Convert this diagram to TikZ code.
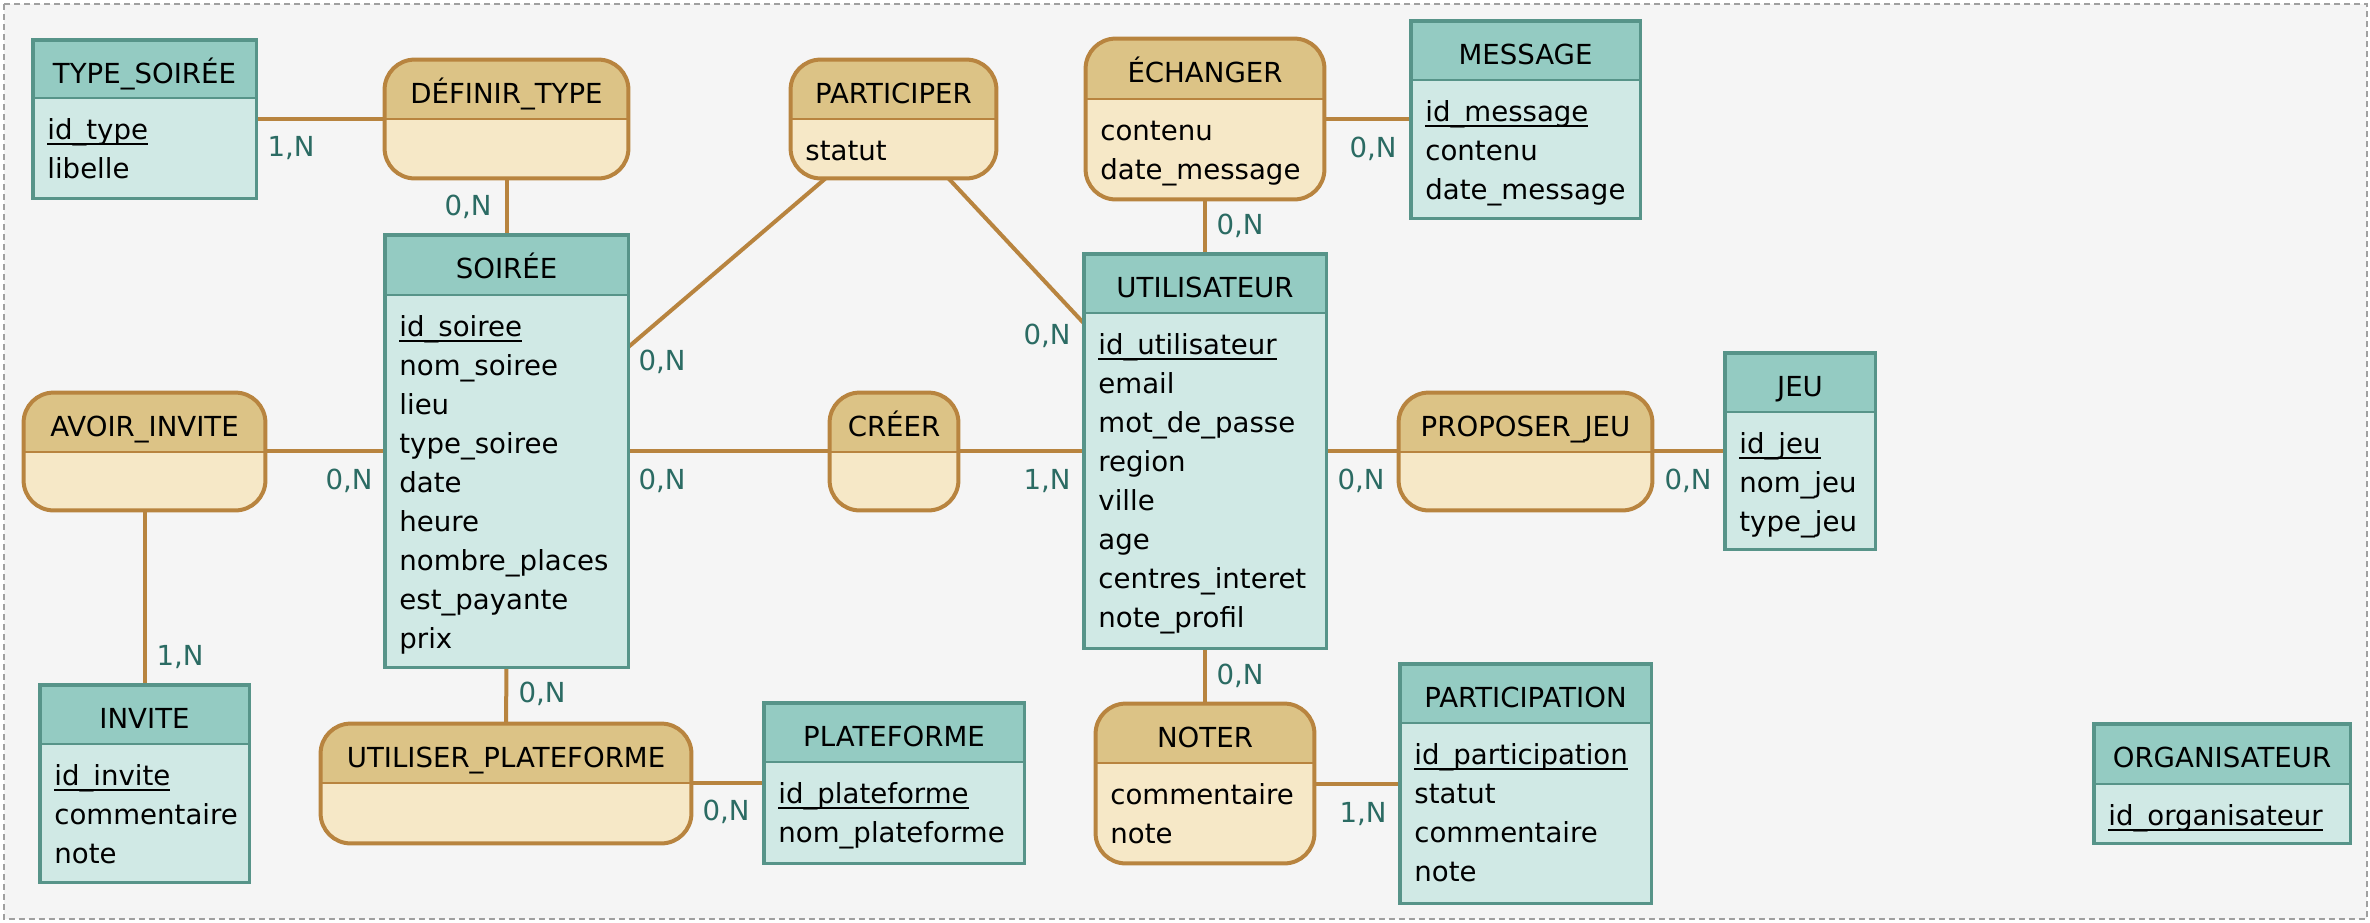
\documentclass[tikz,border=0pt]{standalone}
\usepackage{fontspec}
\setmainfont{DejaVu Sans}
\usetikzlibrary{fit,calc,backgrounds}
\definecolor{bgc}{HTML}{F5F5F5}
\definecolor{ehead}{HTML}{94CBC2}
\definecolor{ebody}{HTML}{D0E9E5}
\definecolor{eline}{HTML}{579489}
\definecolor{ahead}{HTML}{DCC386}
\definecolor{abody}{HTML}{F6E8C7}
\definecolor{aline}{HTML}{B8843F}
\definecolor{cardc}{HTML}{2B6B63}
\definecolor{framec}{HTML}{A0A0A0}
\newsavebox\pkbox
\newcommand\pkey[1]{\sbox\pkbox{#1}\rlap{\rule[-3pt]{\wd\pkbox}{0.9pt}}\usebox\pkbox}
\tikzset{
  ebox/.style={inner sep=0pt, fill=ebody, draw=none},
  eborder/.style={draw=eline, line width=1.9pt},
  abox/.style={inner sep=0pt, fill=abody, draw=none, rounded corners=15pt},
  aborder/.style={draw=aline, line width=2pt, rounded corners=15pt},
  ttl/.style={anchor=base, inner sep=0pt, text=black},
  attr/.style={anchor=base west, inner sep=0pt, text=black},
  conn/.style={draw=aline, line width=2pt},
  cardl/.style={text=cardc, inner sep=0pt, text height=0.73em, text depth=0pt},
}
% entity: name, x1, y1, x2, y2, header bottom, title, rows
\newcommand\entity[8]{%
  \node[ebox, fit={(#2,#3) (#4,#5)}] (#1) {};
  \fill[ehead] (#2,#3) rectangle (#4,#6);
  \draw[eline, line width=0.8pt] (#2,#6) -- (#4,#6);
  \draw[eborder] (#1.north west) rectangle (#1.south east);
  \node[ttl] (#1-t) at ({(#2+#4)/2},{#3+43}) {#7};
  \foreach \rw [count=\ri from 0] in {#8} {\node[attr] (#1-r\ri) at ({#2+14},{#6+41+39*\ri}) {\rw};}
}
% association: name, x1, y1, x2, y2, divider, title, rows
\newcommand\assoc[8]{%
  \node[abox, fit={(#2,#3) (#4,#5)}] (#1) {};
  \begin{scope}
    \clip[rounded corners=15pt] (#2,#3) rectangle (#4,#5);
    \fill[ahead] (#2,#3) rectangle (#4,#6);
  \end{scope}
  \draw[aline, line width=1.2pt] (#2,#6) -- (#4,#6);
  \draw[aborder] (#1.north west) rectangle (#1.south east);
  \node[ttl] (#1-t) at ({(#2+#4)/2},{#3+43}) {#7};
  \foreach \rw [count=\ri from 0] in {#8} {\node[attr] (#1-r\ri) at ({#2+14},{#6+41+39*\ri}) {\rw};}
}
\begin{document}
\begin{tikzpicture}[x=0.5pt, y=-0.5pt, font=\fontsize{13.8}{16}\selectfont]
\useasboundingbox (0,0) rectangle (2370,922);

% entities
\entity{ts}{33}{40}{256}{198}{98}{TYPE\_SOIRÉE}{\pkey{id\_type}, libelle}
\entity{soiree}{385}{235}{628}{667}{295}{SOIRÉE}{\pkey{id\_soiree}, nom\_soiree, lieu, type\_soiree, date, heure, nombre\_places, est\_payante, prix}
\entity{msg}{1411}{21}{1640}{218}{80}{MESSAGE}{\pkey{id\_message}, contenu, date\_message}
\entity{util}{1084}{254}{1326}{648}{313}{UTILISATEUR}{\pkey{id\_utilisateur}, email, mot\_de\_passe, region, ville, age, centres\_interet, note\_profil}
\entity{jeu}{1725}{353}{1875}{549}{412}{JEU}{\pkey{id\_jeu}, nom\_jeu, type\_jeu}
\entity{invite}{40}{685}{249}{882}{744}{INVITE}{\pkey{id\_invite}, commentaire, note}
\entity{plat}{764}{703}{1024}{863}{762}{PLATEFORME}{\pkey{id\_plateforme}, nom\_plateforme}
\entity{partn}{1400}{664}{1651}{903}{723}{PARTICIPATION}{\pkey{id\_participation}, statut, commentaire, note}
\entity{orga}{2094}{724}{2350}{843}{784}{ORGANISATEUR}{\pkey{id\_organisateur}}

% associations
\assoc{deft}{385}{60}{628}{178}{119}{DÉFINIR\_TYPE}{}
\assoc{part}{791}{60}{996}{178}{119}{PARTICIPER}{statut}
\assoc{ech}{1086}{39}{1324}{199}{99}{ÉCHANGER}{contenu, date\_message}
\assoc{avinv}{24}{393}{265}{510}{452}{AVOIR\_INVITE}{}
\assoc{creer}{830}{393}{958}{510}{452}{CRÉER}{}
\assoc{prop}{1399}{393}{1652}{510}{452}{PROPOSER\_JEU}{}
\assoc{utilp}{321}{724}{691}{843}{783}{UTILISER\_PLATEFORME}{}
\assoc{noter}{1096}{704}{1314}{863}{763}{NOTER}{commentaire, note}

\begin{pgfonlayer}{background}
  \fill[white] (0,0) rectangle (2370,922);
  \fill[bgc] (4,4) rectangle (2367,919);
  \draw[framec, line width=0.6pt, dash pattern=on 3pt off 2pt] (4,4) rectangle (2367,919);
  \draw[conn] (ts.east) -- (ts.east -| deft.west);
  \draw[conn] (deft.south) -- (soiree.north);
  \draw[conn] ($(part.south)+(-68,0)$) -- ($(soiree.east)+(0,-104)$);
  \draw[conn] ($(part.south)+(55,0)$) -- ($(util.west)+(0,-128)$);
  \draw[conn] (ech.south) -- (util.north);
  \draw[conn] (ech.east) -- (ech.east -| msg.west);
  \draw[conn] (soiree.west) -- (soiree.west -| avinv.east);
  \draw[conn] (soiree.east) -- (soiree.east -| creer.west);
  \draw[conn] (util.west) -- (util.west -| creer.east);
  \draw[conn] (util.east) -- (util.east -| prop.west);
  \draw[conn] (jeu.west) -- (jeu.west -| prop.east);
  \draw[conn] (avinv.south) -- (invite.north);
  \draw[conn] (soiree.south) -- (utilp.north);
  \draw[conn] (plat.west) -- (plat.west -| utilp.east);
  \draw[conn] (util.south) -- (noter.north);
  \draw[conn] (noter.east) -- (noter.east -| partn.west);
\end{pgfonlayer}

% cardinalities
\node[cardl] (c1) at (291,149) {1,N};
\node[cardl] (c2) at (468,208) {0,N};
\node[cardl] (c3) at (1373,150) {0,N};
\node[cardl] (c4) at (1240,227) {0,N};
\node[cardl] (c5) at (662,363) {0,N};
\node[cardl] (c6) at (1047,337) {0,N};
\node[cardl] (c7) at (349,482) {0,N};
\node[cardl] (c8) at (662,482) {0,N};
\node[cardl] (c9) at (1047,482) {1,N};
\node[cardl] (c10) at (1361,482) {0,N};
\node[cardl] (c11) at (1688,482) {0,N};
\node[cardl] (c12) at (180,658) {1,N};
\node[cardl] (c13) at (542,695) {0,N};
\node[cardl] (c14) at (726,813) {0,N};
\node[cardl] (c15) at (1240,677) {0,N};
\node[cardl] (c16) at (1363,815) {1,N};
\end{tikzpicture}
\end{document}
